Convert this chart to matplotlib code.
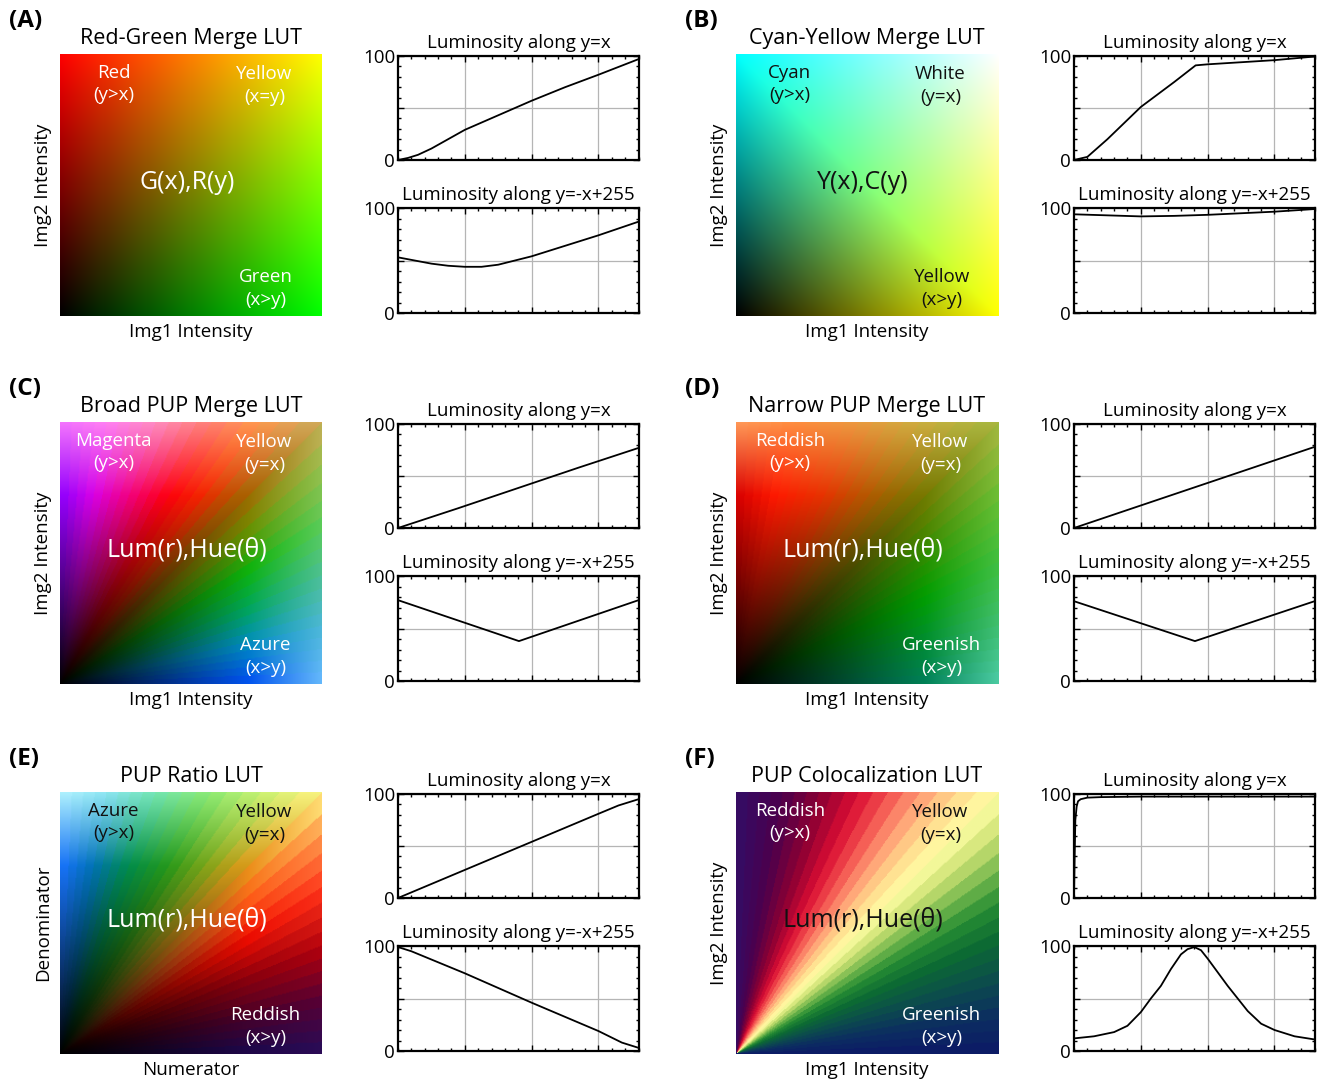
import numpy as np
import matplotlib
matplotlib.use('Agg')
import matplotlib.pyplot as plt
from matplotlib.ticker import MultipleLocator

plt.rcParams['font.family'] = ['Open Sans', 'DejaVu Sans']

W, H = 1332, 1081
DIAG = 255 * np.sqrt(2)

# ---------------- text data ----------------
panel_letters = ['(A)', '(B)', '(C)', '(D)', '(E)', '(F)']
panel_titles = ['Red-Green Merge LUT', 'Cyan-Yellow Merge LUT', 'Broad PUP Merge LUT',
                'Narrow PUP Merge LUT', 'PUP Ratio LUT', 'PUP Colocalization LUT']
x_labels = ['Img1 Intensity', 'Img1 Intensity', 'Img1 Intensity',
            'Img1 Intensity', 'Numerator', 'Img1 Intensity']
y_labels = ['Img2 Intensity', 'Img2 Intensity', 'Img2 Intensity',
            'Img2 Intensity', 'Denominator', 'Img2 Intensity']
tl_labels = ['Red\n(y>x)', 'Cyan\n(y>x)', 'Magenta\n(y>x)', 'Reddish\n(y>x)', 'Azure\n(y>x)', 'Reddish\n(y>x)']
tr_labels = ['Yellow\n(x=y)', 'White\n(y=x)', 'Yellow\n(y=x)', 'Yellow\n(y=x)', 'Yellow\n(y=x)', 'Yellow\n(y=x)']
c_labels = ['G(x),R(y)', 'Y(x),C(y)', 'Lum(r),Hue(θ)', 'Lum(r),Hue(θ)', 'Lum(r),Hue(θ)', 'Lum(r),Hue(θ)']
br_labels = ['Green\n(x>y)', 'Yellow\n(x>y)', 'Azure\n(x>y)', 'Greenish\n(x>y)', 'Reddish\n(x>y)', 'Greenish\n(x>y)']
# label colours: top-left, top-right, centre, bottom-right
label_colors = [
    ['white', 'white', 'white', 'white'],
    ['#111111', '#111111', '#111111', '#111111'],
    ['white', 'white', 'white', 'white'],
    ['white', 'white', 'white', 'white'],
    ['#111111', '#111111', 'white', 'white'],
    ['white', '#111111', '#111111', 'white'],
]
line_title_diag = 'Luminosity along y=x'
line_title_anti = 'Luminosity along y=-x+255'

# ---------------- luminosity curves ----------------
A_diag_x = [0, 15, 30, 50, 75, 100, 150, 200, 250, 300, 360]
A_diag_y = [0, 2, 5, 11, 20, 29, 43, 57, 70, 82, 97]
A_anti_x = [0, 25, 50, 75, 100, 125, 150, 200, 250, 300, 360]
A_anti_y = [53, 50, 47, 45, 44, 44, 46, 54, 64, 74, 87]

B_diag_x = [0, 10, 20, 50, 100, 150, 182, 200, 250, 300, 360]
B_diag_y = [0, 1.5, 3, 20, 51, 75, 91, 92, 94, 96, 99.5]
B_anti_x = [0, 50, 100, 150, 200, 250, 300, 360]
B_anti_y = [94, 93, 92, 92.5, 93.5, 95, 96.5, 99]

C_diag_x = [0, 90, 180, 270, 360]
C_diag_y = [0, 19, 38.5, 58, 77]
C_anti_x = [0, 181, 360]
C_anti_y = [77, 38, 77]

D_diag_x = [0, 90, 180, 270, 360]
D_diag_y = [0, 19.5, 39, 58.5, 78]
D_anti_x = [0, 181, 360]
D_anti_y = [76, 38, 76]

E_diag_x = [0, 100, 200, 300, 330, 360]
E_diag_y = [0, 27, 54, 81, 89, 95]
E_anti_x = [0, 20, 100, 200, 300, 335, 360]
E_anti_y = [99, 95, 74, 46, 19, 8, 3]

F_diag_x = [0, 1, 2, 4, 6, 10, 20, 40, 100, 200, 300, 360]
F_diag_y = [0, 40, 75, 88, 93, 95, 96.5, 97, 97.5, 97.5, 97.5, 97.5]
F_anti_x = [0, 30, 60, 80, 100, 115, 130, 145, 160, 170, 180, 190, 200, 215, 230, 245, 260, 280, 300, 330, 360]
F_anti_y = [12, 14, 18, 24, 37, 50, 62, 78, 92, 97, 99, 96, 88, 75, 62, 50, 38, 26, 20, 14, 11]

diag_x = [A_diag_x, B_diag_x, C_diag_x, D_diag_x, E_diag_x, F_diag_x]
diag_y = [A_diag_y, B_diag_y, C_diag_y, D_diag_y, E_diag_y, F_diag_y]
anti_x = [A_anti_x, B_anti_x, C_anti_x, D_anti_x, E_anti_x, F_anti_x]
anti_y = [A_anti_y, B_anti_y, C_anti_y, D_anti_y, E_anti_y, F_anti_y]

# ---------------- LUT hue stops ----------------
C_theta = [0, 12, 22, 31, 40, 47, 53, 60, 70, 80, 90]
C_full = [(0.0, 0.30, 0.95), (0.0, 0.55, 0.75), (0.0, 0.65, 0.35), (0.05, 0.70, 0.05), (0.45, 0.55, 0.0),
          (0.70, 0.35, 0.0), (0.95, 0.15, 0.0), (1.0, 0.0, 0.05), (0.95, 0.0, 0.50), (0.85, 0.0, 0.90), (0.55, 0.0, 1.0)]
C_top = [(0.40, 0.72, 1.0), (0.30, 0.72, 0.85), (0.30, 0.75, 0.60), (0.35, 0.80, 0.35), (0.60, 0.75, 0.30),
         (0.85, 0.65, 0.35), (1.0, 0.60, 0.30), (1.0, 0.50, 0.45), (1.0, 0.55, 0.75), (1.0, 0.50, 0.95), (0.95, 0.45, 1.0)]

D_theta = [0, 12, 25, 35, 45, 55, 65, 78, 90]
D_full = [(0.0, 0.50, 0.35), (0.0, 0.55, 0.20), (0.0, 0.62, 0.0), (0.20, 0.55, 0.0), (0.45, 0.48, 0.0),
          (0.70, 0.35, 0.0), (0.90, 0.20, 0.0), (1.0, 0.10, 0.0), (0.85, 0.0, 0.0)]
D_top = [(0.30, 0.80, 0.65), (0.25, 0.75, 0.45), (0.25, 0.75, 0.25), (0.40, 0.75, 0.20), (0.65, 0.72, 0.25),
         (0.80, 0.68, 0.25), (0.92, 0.60, 0.25), (1.0, 0.55, 0.25), (1.0, 0.60, 0.35)]

E_theta = [0, 12, 22, 32, 40, 45, 52, 60, 70, 80, 90]
E_full = [(0.10, 0.03, 0.30), (0.30, 0.0, 0.15), (0.55, 0.0, 0.05), (0.95, 0.05, 0.0), (1.0, 0.40, 0.10),
          (0.90, 0.60, 0.10), (0.50, 0.65, 0.10), (0.15, 0.60, 0.10), (0.0, 0.55, 0.30), (0.0, 0.45, 0.70), (0.10, 0.45, 1.0)]
E_top = [(0.15, 0.05, 0.35), (0.35, 0.0, 0.20), (0.70, 0.0, 0.05), (1.0, 0.20, 0.10), (1.0, 0.60, 0.30),
         (1.0, 0.95, 0.50), (0.80, 0.95, 0.45), (0.55, 0.92, 0.45), (0.45, 0.90, 0.70), (0.55, 0.90, 0.95), (0.70, 0.95, 1.0)]

F_theta = [0, 8, 16, 24, 30, 35, 40, 45, 50, 55, 60, 65, 72, 80, 90]
F_hue = [(0.05, 0.10, 0.40), (0.05, 0.18, 0.38), (0.05, 0.30, 0.30), (0.05, 0.42, 0.20), (0.15, 0.55, 0.20),
         (0.45, 0.72, 0.30), (0.80, 0.88, 0.45), (1.0, 1.0, 0.65), (1.0, 0.85, 0.55), (1.0, 0.60, 0.45),
         (0.95, 0.30, 0.30), (0.85, 0.05, 0.20), (0.55, 0.0, 0.20), (0.30, 0.0, 0.30), (0.20, 0.05, 0.40)]

N = 256
gx, gy = np.meshgrid(np.arange(N) / 255.0, np.arange(N) / 255.0)


def interp_cols(th, stops, cols):
    cols = np.asarray(cols)
    return np.stack([np.interp(th, stops, cols[:, k]) for k in range(3)], axis=-1)


def polar_theta(nbands=36):
    th = np.degrees(np.arctan2(gy, gx))
    th = (np.floor(th / 90.0 * nbands).clip(0, nbands - 1) + 0.5) * 90.0 / nbands
    return th


def lut_red_green():
    return np.stack([gy, gx, np.zeros_like(gx)], axis=-1)


def lut_cyan_yellow():
    return np.stack([gx, np.clip(gx + gy, 0, 1), gy], axis=-1)


def lut_lum_hue(stops, full, top, vfull=0.72):
    th = polar_theta()
    v = np.maximum(gx, gy)[..., None]
    cf = interp_cols(th, stops, full)
    ct = interp_cols(th, stops, top)
    low = cf * (v / vfull)
    high = cf + (ct - cf) * ((v - vfull) / (1 - vfull))
    return np.clip(np.where(v < vfull, low, high), 0, 1)


def lut_hue_only(stops, hue):
    th = polar_theta()
    return np.clip(interp_cols(th, stops, hue), 0, 1)


luts = [lut_red_green(), lut_cyan_yellow(),
        lut_lum_hue(C_theta, C_full, C_top),
        lut_lum_hue(D_theta, D_full, D_top),
        lut_lum_hue(E_theta, E_full, E_top),
        lut_hue_only(F_theta, F_hue)]

# ---------------- layout ----------------
fig = plt.figure(figsize=(W / 100, H / 100), dpi=100)


def rect(l, t, w, h):
    return [l / W, 1 - (t + h) / H, w / W, h / H]


col_left = [60, 736]
row_top = [54, 422, 792]
IMG = 262


def style_line_ax(ax):
    ax.set_xlim(0, DIAG)
    ax.set_ylim(0, 100)
    ax.set_xticks([100, 200, 300])
    ax.set_xticklabels([])
    ax.xaxis.set_minor_locator(MultipleLocator(20))
    ax.set_yticks([0, 50, 100])
    ax.set_yticklabels(['0', '', '100'], fontsize=13.5)
    ax.yaxis.set_minor_locator(MultipleLocator(10))
    ax.tick_params(which='both', direction='in', top=True, right=True, width=1.0, pad=2)
    ax.tick_params(which='major', length=4)
    ax.tick_params(which='minor', length=2.5)
    ax.grid(True, which='major', color='#b5b5b5', lw=0.9)
    for s in ax.spines.values():
        s.set_linewidth(1.6)


for i in range(6):
    r, c = divmod(i, 2)
    L = col_left[c]
    T = row_top[r]
    # LUT image
    ax = fig.add_axes(rect(L, T, IMG, IMG))
    ax.imshow(luts[i], origin='lower', extent=[0, 255, 0, 255], aspect='auto', interpolation='bilinear')
    ax.set_xticks([])
    ax.set_yticks([])
    for s in ax.spines.values():
        s.set_visible(False)
    ax.set_title(panel_titles[i], fontsize=15.5, pad=7)
    ax.set_xlabel(x_labels[i], fontsize=13.5, labelpad=5)
    ax.set_ylabel(y_labels[i], fontsize=13.5, labelpad=6)
    lc = label_colors[i]
    ax.text(0.205, 0.885, tl_labels[i], transform=ax.transAxes, ha='center', va='center',
            fontsize=13.5, color=lc[0], linespacing=1.3)
    ax.text(0.78, 0.88, tr_labels[i], transform=ax.transAxes, ha='center', va='center',
            fontsize=13.5, color=lc[1], linespacing=1.3)
    ax.text(0.485, 0.51, c_labels[i], transform=ax.transAxes, ha='center', va='center',
            fontsize=18, color=lc[2])
    ax.text(0.785, 0.105, br_labels[i], transform=ax.transAxes, ha='center', va='center',
            fontsize=13.5, color=lc[3], linespacing=1.3)
    # panel letter
    fig.text((L - 51) / W, 1 - (T - 33) / H, panel_letters[i], fontsize=17.5, fontweight='bold',
             ha='left', va='center')
    # luminosity plots
    LL = L + 338
    ax1 = fig.add_axes(rect(LL, T + 2, 241, 104))
    ax1.plot(diag_x[i], diag_y[i], color='black', lw=1.3)
    style_line_ax(ax1)
    ax1.set_title(line_title_diag, fontsize=13.5, pad=6)
    ax2 = fig.add_axes(rect(LL, T + 154, 241, 105))
    ax2.plot(anti_x[i], anti_y[i], color='black', lw=1.3)
    style_line_ax(ax2)
    ax2.set_title(line_title_anti, fontsize=13.5, pad=6)

fig.savefig('out.png', dpi=100)
